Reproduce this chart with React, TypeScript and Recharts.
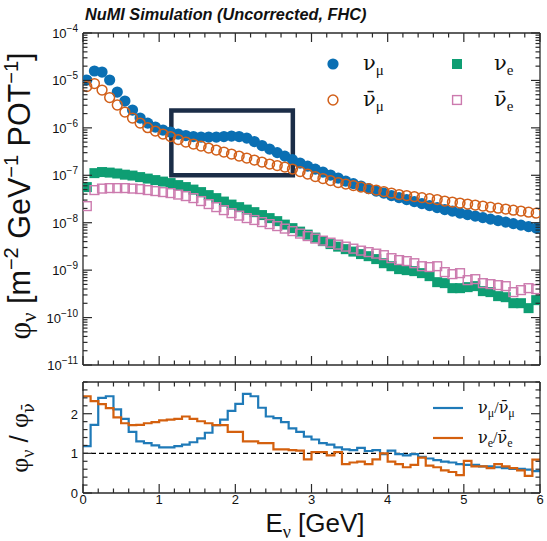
import React from 'react';
import {
  ScatterChart,
  Scatter,
  XAxis,
  YAxis,
  ReferenceArea,
  LineChart,
  Line,
  ReferenceLine,
  Legend,
} from 'recharts';

// ---------------- data ----------------
const binLow = [
  0.0, 0.1, 0.2, 0.3, 0.4, 0.5, 0.6, 0.7, 0.8, 0.9,
  1.0, 1.1, 1.2, 1.3, 1.4, 1.5, 1.6, 1.7, 1.8, 1.9,
  2.0, 2.1, 2.2, 2.3, 2.4, 2.5, 2.6, 2.7, 2.8, 2.9,
  3.0, 3.1, 3.2, 3.3, 3.4, 3.5, 3.6, 3.7, 3.8, 3.9,
  4.0, 4.1, 4.2, 4.3, 4.4, 4.5, 4.6, 4.7, 4.8, 4.9,
  5.0, 5.1, 5.2, 5.3, 5.4, 5.5, 5.6, 5.7, 5.8, 5.9,
];
const binWidth = 0.1;
const xMax = 6;

const numuFlux = [
  1.02e-5, 1.58e-5, 1.5e-5, 1.02e-5, 5.69e-6, 3.67e-6, 2.37e-6, 1.61e-6, 1.26e-6, 1.04e-6,
  8.99e-7, 8.15e-7, 7.4e-7, 6.88e-7, 6.55e-7, 6.39e-7, 6.39e-7, 6.39e-7, 6.55e-7, 6.71e-7,
  6.55e-7, 6.09e-7, 5.14e-7, 4.23e-7, 3.57e-7, 3.01e-7, 2.54e-7, 2.14e-7, 1.81e-7, 1.56e-7,
  1.35e-7, 1.17e-7, 1.01e-7, 8.73e-8, 7.54e-8, 6.68e-8, 5.92e-8, 5.24e-8, 4.64e-8, 4.21e-8,
  3.73e-8, 3.38e-8, 3.07e-8, 2.79e-8, 2.53e-8, 2.29e-8, 2.08e-8, 1.89e-8, 1.76e-8, 1.59e-8,
  1.48e-8, 1.38e-8, 1.28e-8, 1.19e-8, 1.11e-8, 1.03e-8, 9.57e-9, 8.9e-9, 8.28e-9, 7.69e-9,
];
const numubarFlux = [
  7.43e-6, 8.6e-6, 6.27e-6, 4.36e-6, 3.03e-6, 2.15e-6, 1.61e-6, 1.26e-6, 1.01e-6, 8.56e-7,
  7.4e-7, 6.55e-7, 5.66e-7, 5.01e-7, 4.55e-7, 4.13e-7, 3.75e-7, 3.4e-7, 3.09e-7, 2.8e-7,
  2.54e-7, 2.31e-7, 2.09e-7, 1.9e-7, 1.72e-7, 1.6e-7, 1.49e-7, 1.35e-7, 1.2e-7, 1.06e-7,
  9.39e-8, 8.52e-8, 7.73e-8, 7.02e-8, 6.52e-8, 6.06e-8, 5.64e-8, 5.24e-8, 4.87e-8, 4.53e-8,
  4.21e-8, 3.92e-8, 3.73e-8, 3.55e-8, 3.38e-8, 3.22e-8, 3.07e-8, 2.86e-8, 2.72e-8, 2.59e-8,
  2.47e-8, 2.35e-8, 2.24e-8, 2.13e-8, 2.03e-8, 1.94e-8, 1.84e-8, 1.76e-8, 1.67e-8, 1.59e-8,
];
const nueFlux = [
  5.64e-8, 1.11e-7, 1.17e-7, 1.14e-7, 1.09e-7, 1.03e-7, 9.86e-8, 9.16e-8, 8.52e-8, 7.92e-8,
  7.36e-8, 6.85e-8, 6.21e-8, 5.64e-8, 4.99e-8, 4.42e-8, 3.82e-8, 3.3e-8, 2.79e-8, 2.41e-8,
  2.13e-8, 1.89e-8, 1.67e-8, 1.45e-8, 1.25e-8, 1.08e-8, 9.12e-9, 7.69e-9, 6.49e-9, 5.61e-9,
  4.85e-9, 4.09e-9, 3.54e-9, 3.13e-9, 2.77e-9, 2.46e-9, 2.18e-9, 1.97e-9, 1.71e-9, 1.4e-9,
  1.21e-9, 1.05e-9, 1.0e-9, 9.53e-10, 8.64e-10, 7.47e-10, 5.58e-10, 5.32e-10, 4.17e-10, 4.17e-10,
  4.38e-10, 4.6e-10, 3.61e-10, 3.44e-10, 2.83e-10, 2.69e-10, 2.01e-10, 2.01e-10, 1.58e-10, 2.33e-10,
];
const nuebarFlux = [
  2.24e-8, 4.87e-8, 5.24e-8, 5.37e-8, 5.37e-8, 5.37e-8, 5.24e-8, 5.12e-8, 4.87e-8, 4.64e-8,
  4.42e-8, 4.21e-8, 3.92e-8, 3.64e-8, 3.3e-8, 2.86e-8, 2.47e-8, 2.13e-8, 1.84e-8, 1.59e-8,
  1.41e-8, 1.25e-8, 1.14e-8, 1.03e-8, 9.34e-9, 8.48e-9, 7.51e-9, 6.65e-9, 5.89e-9, 5.22e-9,
  4.62e-9, 4.19e-9, 3.8e-9, 3.45e-9, 3.13e-9, 2.84e-9, 2.58e-9, 2.4e-9, 2.23e-9, 2.07e-9,
  1.79e-9, 1.63e-9, 1.55e-9, 1.4e-9, 1.21e-9, 1.16e-9, 1.21e-9, 9.08e-10, 8.23e-10, 8.64e-10,
  6.15e-10, 6.46e-10, 5.32e-10, 5.07e-10, 4.83e-10, 4.6e-10, 3.44e-10, 3.79e-10, 4.17e-10, 3.97e-10,
];
const ratioMu = [
  1.18, 1.72, 2.4, 2.44, 2.11, 1.87, 1.54, 1.3, 1.26, 1.2,
  1.15, 1.15, 1.18, 1.22, 1.28, 1.38, 1.52, 1.71, 1.85, 2.07,
  2.25, 2.5, 2.44, 2.15, 1.93, 1.89, 1.79, 1.63, 1.54, 1.42,
  1.35, 1.26, 1.22, 1.15, 1.1, 1.08, 1.14, 1.06, 1.08, 0.98,
  1.07, 0.98, 0.95, 0.98, 0.91, 0.87, 0.83, 0.79, 0.77, 0.73,
  0.71, 0.71, 0.67, 0.67, 0.65, 0.63, 0.61, 0.61, 0.59, 0.55,
];
const ratioE = [
  2.44, 2.32, 2.24, 2.14, 1.91, 1.76, 1.71, 1.72, 1.76, 1.79,
  1.83, 1.85, 1.87, 1.93, 1.87, 1.81, 1.76, 1.71, 1.71, 1.54,
  1.54, 1.3, 1.3, 1.26, 1.26, 1.1, 1.1, 1.08, 1.07, 0.85,
  1.03, 1.03, 0.95, 1.03, 0.73, 0.77, 0.79, 0.73, 0.85, 1.0,
  0.79, 0.73, 0.65, 0.71, 0.89, 0.69, 0.65, 0.57, 0.53, 0.45,
  0.81, 0.67, 0.67, 0.63, 0.73, 0.67, 0.63, 0.57, 0.43, 0.84,
];

const decadeTicks = [1e-11, 1e-10, 1e-9, 1e-8, 1e-7, 1e-6, 1e-5, 1e-4];
const decadeExponents = [-11, -10, -9, -8, -7, -6, -5, -4];
const xMajorTicks = [0, 1, 2, 3, 4, 5, 6];
const ratioMajorTicks = [0, 1, 2];
const ratioMax = 2.8;
const boxRegion = { x1: 1.16, x2: 2.755, y1: 1e-7, y2: 2.32e-6 };

// ---------------- styles ----------------
const BLUE = '#0a6fb3';
const ORANGE = '#d2601a';
const GREEN = '#0e9e73';
const PINK = '#cc7aae';
const RATIO_BLUE = '#1f7ab8';
const RATIO_ORANGE = '#d4600e';
const BOX = '#1b2d47';
const AX = '#2a2a2a';
const SANS = "'Liberation Sans', Arial, sans-serif";
const SERIF = "'Liberation Serif', 'Times New Roman', serif";
const GREEK = "'DejaVu Serif', serif";
const NUBAR = 'ν\u0304';

// ---------------- derived tables ----------------
const pts = (vals: number[]) => binLow.map((lo, i) => ({ x: lo + binWidth / 2, y: vals[i] }));
const numuPts = pts(numuFlux);
const numubarPts = pts(numubarFlux);
const nuePts = pts(nueFlux);
const nuebarPts = pts(nuebarFlux);

const ratioTable = [
  ...binLow.map((lo, i) => ({ x: lo, mu: ratioMu[i], e: ratioE[i] })),
  { x: xMax, mu: ratioMu[ratioMu.length - 1], e: ratioE[ratioE.length - 1] },
];

const xAllTicks: number[] = [];
for (let i = 0; i <= 30; i++) xAllTicks.push(Math.round(i * 2) / 10);
const logAllTicks: number[] = [];
decadeTicks.forEach((d, i) => {
  logAllTicks.push(d);
  if (i < decadeTicks.length - 1) for (let m = 2; m <= 9; m++) logAllTicks.push(m * d);
});
const ratioAllTicks: number[] = [];
for (let i = 0; i <= 14; i++) ratioAllTicks.push(Math.round(i * 2) / 10);

// ---------------- ticks ----------------
const makeXTick = (dir: 'up' | 'down', labels: boolean) => (props: any) => {
  const { x, y, payload } = props;
  const v = payload.value;
  const major = xMajorTicks.some((t) => Math.abs(t - v) < 1e-6);
  const len = major ? 9 : 4.5;
  return (
    <g>
      <line x1={x} y1={y} x2={x} y2={dir === 'up' ? y - len : y + len} stroke={AX} strokeWidth={1.2} />
      {labels && major ? (
        <text x={x} y={y + 11} textAnchor="middle" fontSize={13} fontFamily={SANS} fill="#111">
          {String(Math.round(v))}
        </text>
      ) : null}
    </g>
  );
};

const makeLogTick = (side: 'left' | 'right') => (props: any) => {
  const { x, y, payload } = props;
  const v = payload.value;
  const idx = decadeTicks.findIndex((d) => Math.abs(d - v) / d < 1e-6);
  const major = idx >= 0;
  const len = major ? 9 : 4.5;
  return (
    <g>
      <line x1={x} y1={y} x2={side === 'left' ? x + len : x - len} y2={y} stroke={AX} strokeWidth={1.2} />
      {side === 'left' && major ? (
        <text x={x - 5} y={y + 5} textAnchor="end" fontSize={13} fontFamily={SANS} fill="#111">
          <tspan>10</tspan>
          <tspan fontSize={10} dy={-6}>{`\u2212${-decadeExponents[idx]}`}</tspan>
        </text>
      ) : null}
    </g>
  );
};

const makeRatioTick = (side: 'left' | 'right') => (props: any) => {
  const { x, y, payload } = props;
  const v = payload.value;
  const major = ratioMajorTicks.some((t) => Math.abs(t - v) < 1e-6);
  const len = major ? 9 : 4.5;
  return (
    <g>
      <line x1={x} y1={y} x2={side === 'left' ? x + len : x - len} y2={y} stroke={AX} strokeWidth={1.2} />
      {side === 'left' && major ? (
        <text x={x - 5} y={y + 5} textAnchor="end" fontSize={13} fontFamily={SANS} fill="#111">
          {String(Math.round(v))}
        </text>
      ) : null}
    </g>
  );
};

const axisLineStyle = { stroke: AX, strokeWidth: 1.3 };

// ---------------- shapes ----------------
const filledCircle = (p: any) => <circle cx={p.cx} cy={p.cy} r={5.6} fill={BLUE} />;
const openCircle = (p: any) => <circle cx={p.cx} cy={p.cy} r={4.9} fill="none" stroke={ORANGE} strokeWidth={1.5} />;
const filledSquare = (p: any) => <rect x={p.cx - 5} y={p.cy - 5} width={10} height={10} fill={GREEN} />;
const openSquare = (p: any) => (
  <rect x={p.cx - 4.4} y={p.cy - 4.4} width={8.8} height={8.8} fill="none" stroke={PINK} strokeWidth={1.4} />
);
const noShape = () => <g />;

// ---------------- legends ----------------
const Nu = ({ bar, sub, x, y, size, subSize }: any) => (
  <text x={x} y={y} fontFamily={GREEK} fontSize={size} fill="#111">
    <tspan>{bar ? NUBAR : 'ν'}</tspan>
    <tspan fontFamily={SERIF} fontSize={subSize} dy={subSize * 0.35}>{sub}</tspan>
  </text>
);

const TopLegend = () => (
  <svg width={229} height={76}>
    <circle cx={15} cy={20} r={5.6} fill={BLUE} />
    <Nu x={45} y={26} size={21} subSize={15} sub="μ" />
    <circle cx={15} cy={56} r={4.9} fill="none" stroke={ORANGE} strokeWidth={1.5} />
    <Nu x={45} y={62} size={21} subSize={15} sub="μ" bar />
    <rect x={134} y={15} width={10} height={10} fill={GREEN} />
    <Nu x={176} y={26} size={21} subSize={15} sub="e" />
    <rect x={134.6} y={51.6} width={8.8} height={8.8} fill="none" stroke={PINK} strokeWidth={1.4} />
    <Nu x={176} y={62} size={21} subSize={15} sub="e" bar />
  </svg>
);

const RatioPair = ({ x, y, sub }: any) => (
  <text x={x} y={y} fontFamily={GREEK} fontSize={16} fill="#111">
    <tspan>ν</tspan>
    <tspan fontFamily={SERIF} fontSize={12} dy={4}>{sub}</tspan>
    <tspan fontFamily={SERIF} dy={-4}>/</tspan>
    <tspan>{NUBAR}</tspan>
    <tspan fontFamily={SERIF} fontSize={12} dy={4}>{sub}</tspan>
  </text>
);

const BottomLegend = () => (
  <svg width={122} height={64}>
    <line x1={8} x2={38} y1={14} y2={14} stroke={RATIO_BLUE} strokeWidth={2.2} />
    <RatioPair x={53} y={19} sub="μ" />
    <line x1={8} x2={38} y1={44} y2={44} stroke={RATIO_ORANGE} strokeWidth={2.2} />
    <RatioPair x={53} y={49} sub="e" />
  </svg>
);

// ---------------- app ----------------
export default function App() {
  return (
    <div style={{ position: 'absolute', left: 0, top: 0, width: 547, height: 541, background: '#fff', overflow: 'hidden' }}>
      <div style={{ position: 'absolute', left: 0, top: 0 }}>
        <ScatterChart width={547} height={380} margin={{ top: 32, right: 6, bottom: 14, left: 0 }}>
          <XAxis
            xAxisId="b" dataKey="x" type="number" domain={[0, xMax]} allowDataOverflow height={1}
            ticks={xAllTicks} interval={0} tickSize={0} tickMargin={0} tickLine={false}
            tick={makeXTick('up', false)} axisLine={axisLineStyle}
          />
          <XAxis
            xAxisId="t" orientation="top" dataKey="x" type="number" domain={[0, xMax]} allowDataOverflow height={1}
            ticks={xAllTicks} interval={0} tickSize={0} tickMargin={0} tickLine={false}
            tick={makeXTick('down', false)} axisLine={axisLineStyle}
          />
          <YAxis
            yAxisId="l" dataKey="y" type="number" scale="log" domain={[1e-11, 1e-4]} allowDataOverflow width={83}
            ticks={logAllTicks} interval={0} tickSize={0} tickMargin={0} tickLine={false}
            tick={makeLogTick('left')} axisLine={axisLineStyle}
          />
          <YAxis
            yAxisId="r" orientation="right" dataKey="y" type="number" scale="log" domain={[1e-11, 1e-4]} allowDataOverflow width={1}
            ticks={logAllTicks} interval={0} tickSize={0} tickMargin={0} tickLine={false}
            tick={makeLogTick('right')} axisLine={axisLineStyle}
          />
          <Scatter name="numu" xAxisId="b" yAxisId="l" data={numuPts} shape={filledCircle} isAnimationActive={false} />
          <Scatter name="numubar" xAxisId="b" yAxisId="l" data={numubarPts} shape={openCircle} isAnimationActive={false} />
          <Scatter name="nue" xAxisId="b" yAxisId="l" data={nuePts} shape={filledSquare} isAnimationActive={false} />
          <Scatter name="nuebar" xAxisId="b" yAxisId="l" data={nuebarPts} shape={openSquare} isAnimationActive={false} />
          <Scatter name="frame" xAxisId="t" yAxisId="r" data={numuPts} shape={noShape} legendType="none" isAnimationActive={false} />
          <ReferenceArea
            xAxisId="b" yAxisId="l" x1={boxRegion.x1} x2={boxRegion.x2} y1={boxRegion.y1} y2={boxRegion.y2}
            fill="none" fillOpacity={0} stroke={BOX} strokeWidth={4.5} ifOverflow="visible"
          />
          <Legend
            layout="horizontal" verticalAlign="middle" align="center"
            wrapperStyle={{ position: 'absolute', left: 318, top: 44, width: 229, height: 76 }}
            content={() => <TopLegend />}
          />
        </ScatterChart>
      </div>

      <div style={{ position: 'absolute', left: 0, top: 370 }}>
        <LineChart width={547} height={171} data={ratioTable} margin={{ top: 11, right: 6, bottom: 47, left: 0 }}>
          <XAxis
            xAxisId="b" dataKey="x" type="number" domain={[0, xMax]} allowDataOverflow height={1}
            ticks={xAllTicks} interval={0} tickSize={0} tickMargin={0} tickLine={false}
            tick={makeXTick('up', true)} axisLine={axisLineStyle}
          />
          <XAxis
            xAxisId="t" orientation="top" dataKey="x" type="number" domain={[0, xMax]} allowDataOverflow height={1}
            ticks={xAllTicks} interval={0} tickSize={0} tickMargin={0} tickLine={false}
            tick={makeXTick('down', false)} axisLine={axisLineStyle}
          />
          <YAxis
            yAxisId="l" type="number" domain={[0, ratioMax]} allowDataOverflow width={83}
            ticks={ratioAllTicks} interval={0} tickSize={0} tickMargin={0} tickLine={false}
            tick={makeRatioTick('left')} axisLine={axisLineStyle}
          />
          <YAxis
            yAxisId="r" orientation="right" type="number" domain={[0, ratioMax]} allowDataOverflow width={1}
            ticks={ratioAllTicks} interval={0} tickSize={0} tickMargin={0} tickLine={false}
            tick={makeRatioTick('right')} axisLine={axisLineStyle}
          />
          <ReferenceLine xAxisId="b" yAxisId="l" y={1} stroke="#000" strokeWidth={1.3} strokeDasharray="5 3" />
          <Line xAxisId="b" yAxisId="l" type="stepAfter" dataKey="mu" stroke={RATIO_BLUE} strokeWidth={2.2} dot={false} isAnimationActive={false} />
          <Line xAxisId="b" yAxisId="l" type="stepAfter" dataKey="e" stroke={RATIO_ORANGE} strokeWidth={2.2} dot={false} isAnimationActive={false} />
          <Line xAxisId="t" yAxisId="r" dataKey="mu" stroke="none" strokeWidth={0} dot={false} legendType="none" isAnimationActive={false} />
          <Legend
            layout="horizontal" verticalAlign="middle" align="center"
            wrapperStyle={{ position: 'absolute', left: 425, top: 24, width: 122, height: 64 }}
            content={() => <BottomLegend />}
          />
        </LineChart>
      </div>

      <svg width={547} height={541} style={{ position: 'absolute', left: 0, top: 0, pointerEvents: 'none' }}>
        <text x={85} y={20} fontFamily={SANS} fontWeight="bold" fontStyle="italic" fontSize={16.3} fill="#111">
          NuMI Simulation (Uncorrected, FHC)
        </text>
        <text transform="translate(30,196) rotate(-90)" textAnchor="middle" fontFamily={SANS} fontSize={30.5} fill="#111">
          <tspan fontFamily={SERIF}>φ</tspan>
          <tspan fontFamily={SERIF} fontSize={21} dy={6}>ν</tspan>
          <tspan dy={-6}> [m</tspan>
          <tspan fontSize={20} dy={-12}>−2</tspan>
          <tspan dy={12}> GeV</tspan>
          <tspan fontSize={20} dy={-12}>−1</tspan>
          <tspan dy={12}> POT</tspan>
          <tspan fontSize={20} dy={-12}>−1</tspan>
          <tspan dy={12}>]</tspan>
        </text>
        <text transform="translate(28,438) rotate(-90)" textAnchor="middle" fontFamily={SANS} fontSize={26} fill="#111">
          <tspan fontFamily={SERIF}>φ</tspan>
          <tspan fontFamily={SERIF} fontSize={18} dy={6}>ν</tspan>
          <tspan dy={-6}> / </tspan>
          <tspan fontFamily={SERIF}>φ</tspan>
          <tspan fontFamily={GREEK} fontSize={16} dy={6}>{NUBAR}</tspan>
        </text>
        <text x={315} y={532} textAnchor="middle" fontFamily={SANS} fontSize={26} fill="#111">
          <tspan>E</tspan>
          <tspan fontFamily={SERIF} fontSize={18} dy={6}>ν</tspan>
          <tspan dy={-6}> [GeV]</tspan>
        </text>
      </svg>
    </div>
  );
}
